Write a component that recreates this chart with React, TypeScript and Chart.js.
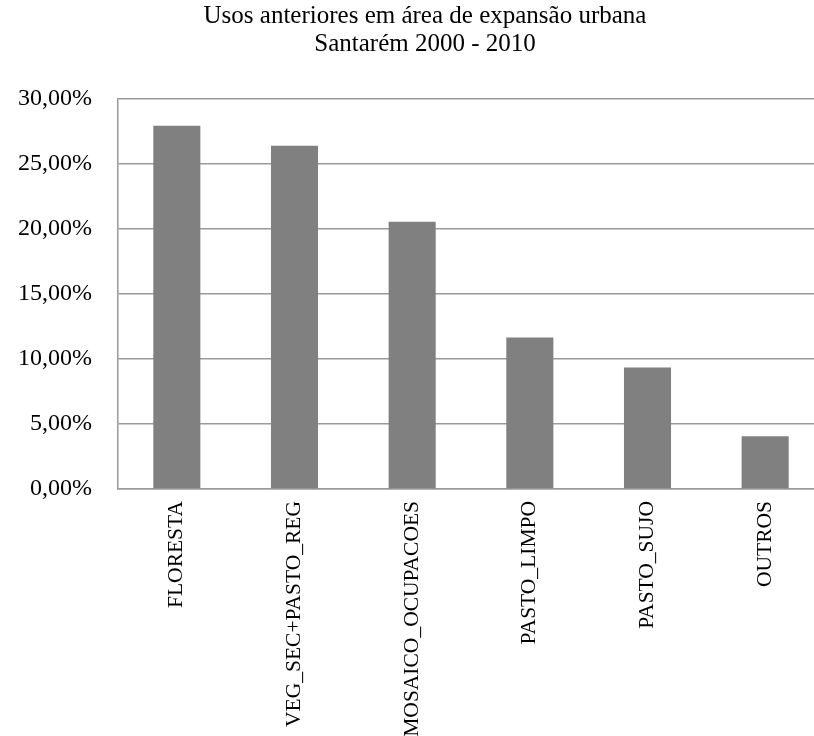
import React, { useEffect, useRef } from "react";
import { Chart, registerables } from "chart.js";

Chart.register(...registerables);

const categories = [
  "FLORESTA",
  "VEG_SEC+PASTO_REG",
  "MOSAICO_OCUPACOES",
  "PASTO_LIMPO",
  "PASTO_SUJO",
  "OUTROS",
];
const percentValues = [27.95, 26.4, 20.55, 11.65, 9.35, 4.05];
const titleLines = ["Usos anteriores em área de expansão urbana", "Santarém 2000 - 2010"];
const yMin = 0;
const yMax = 30;
const yStep = 5;

const FONT = "'Liberation Serif', 'Times New Roman', serif";

export default function App() {
  const canvasRef = useRef<HTMLCanvasElement | null>(null);

  useEffect(() => {
    const canvas = canvasRef.current;
    if (!canvas) return;
    const chart = new Chart(canvas, {
      type: "bar",
      data: {
        labels: categories,
        datasets: [
          {
            data: percentValues,
            backgroundColor: "#808080",
            borderWidth: 0,
            categoryPercentage: 1,
            barPercentage: 0.4,
            yAxisID: "y",
          },
        ],
      },
      options: {
        responsive: false,
        animation: false,
        devicePixelRatio: 1,
        layout: { padding: 0 },
        plugins: {
          legend: { display: false },
          tooltip: { enabled: false },
          title: {
            display: true,
            text: titleLines,
            color: "#000",
            font: { family: FONT, size: 25, weight: "normal", lineHeight: 28 / 25 },
            padding: { top: 2, bottom: 41 },
          },
        },
        scales: {
          x: {
            grid: { display: false, drawTicks: false },
            border: { display: true, color: "#9a9a9a", width: 1.5 },
            ticks: {
              color: "#000",
              font: { family: FONT, size: 21.5 },
              minRotation: 90,
              maxRotation: 90,
              autoSkip: false,
              padding: 12,
            },
            afterFit: (scale: any) => {
              scale.height = 247;
            },
          },
          y: {
            position: "left",
            min: yMin,
            max: yMax,
            grid: { color: "#9a9a9a", lineWidth: 1.5, drawTicks: false },
            border: { display: true, color: "#9a9a9a", width: 1.5 },
            ticks: {
              stepSize: yStep,
              color: "#000",
              font: { family: FONT, size: 24 },
              padding: 26,
              callback: (v: any) => Number(v).toFixed(2).replace(".", ",") + "%",
            },
            afterFit: (scale: any) => {
              scale.width = 118;
            },
          },
          yR: {
            position: "right",
            min: yMin,
            max: yMax,
            grid: { display: false, drawTicks: false },
            border: { display: false },
            ticks: { display: false },
            afterFit: (scale: any) => {
              scale.width = 26;
            },
          },
        },
      },
    } as any);
    return () => chart.destroy();
  }, []);

  return (
    <div
      style={{
        position: "absolute",
        left: 0,
        top: 0,
        width: 814,
        height: 736,
        overflow: "hidden",
        background: "#fff",
      }}
    >
      <canvas ref={canvasRef} width={850} height={736} style={{ display: "block" }} />
    </div>
  );
}
